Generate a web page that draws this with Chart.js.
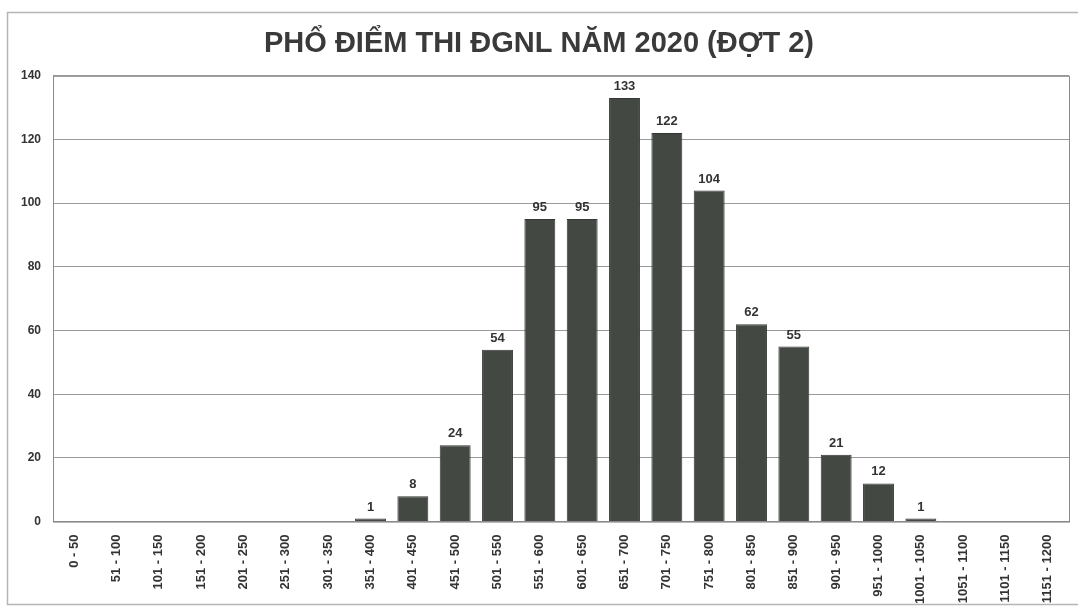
<!DOCTYPE html>
<html>
<head>
  <title>Phổ điểm thi ĐGNL 2020</title>
  <script src="https://cdn.jsdelivr.net/npm/chart.js"></script>
  <style>
    body { margin: 0; background: #fff; }
    #wrap { width: 1078px; height: 610px; }
  </style>
</head>
<body>
  <div id="wrap"><canvas id="myChart"></canvas></div>
  <script>
    const titleText = 'PHỔ ĐIỂM THI ĐGNL NĂM 2020 (ĐỢT 2)';
    const scoreRanges = ['0 - 50', '51 - 100', '101 - 150', '151 - 200', '201 - 250', '251 - 300',
      '301 - 350', '351 - 400', '401 - 450', '451 - 500', '501 - 550', '551 - 600',
      '601 - 650', '651 - 700', '701 - 750', '751 - 800', '801 - 850', '851 - 900',
      '901 - 950', '951 - 1000', '1001 - 1050', '1051 - 1100', '1101 - 1150', '1151 - 1200'];
    const counts = [0, 0, 0, 0, 0, 0, 0, 1, 8, 24, 54, 95, 95, 133, 122, 104, 62, 55, 21, 12, 1, 0, 0, 0];
    const yTicks = [0, 20, 40, 60, 80, 100, 120, 140];

    // frame round the plot + thin border round the whole picture + value labels
    const extras = {
      id: 'extras',
      afterDraw(chart) {
        const c = chart.ctx, a = chart.chartArea;
        c.save();
        c.strokeStyle = '#b5b5b5';
        c.lineWidth = 1.5;
        c.strokeRect(7.5, 12.5, 1078, 592);
        c.strokeStyle = '#8a8a8a';
        c.lineWidth = 1;
        c.strokeRect(a.left + 0.5, a.top + 0.5, a.right - a.left, a.bottom - a.top);
        c.fillStyle = '#333';
        c.font = 'bold 13px "Liberation Sans", Arial, sans-serif';
        c.textAlign = 'center';
        c.textBaseline = 'bottom';
        const meta = chart.getDatasetMeta(0);
        meta.data.forEach((bar, i) => {
          if (counts[i] > 0) c.fillText(counts[i], bar.x, bar.y - 5);
        });
        c.restore();
      }
    };

    new Chart(document.getElementById('myChart'), {
      type: 'bar',
      data: {
        labels: scoreRanges,
        datasets: [{
          data: counts,
          backgroundColor: '#434843',
          borderColor: '#333733',
          borderWidth: 1,
          categoryPercentage: 1,
          barPercentage: 0.73
        }]
      },
      options: {
        responsive: true,
        maintainAspectRatio: false,
        animation: false,
        layout: { padding: { left: 9, right: 9, top: 3, bottom: 1 } },
        plugins: {
          legend: { display: false },
          tooltip: { enabled: false },
          title: {
            display: true,
            text: titleText,
            color: '#3a3a3a',
            font: { family: '"Liberation Sans", Arial, sans-serif', size: 29, weight: 'bold' },
            padding: { top: 24, bottom: 14 }
          }
        },
        scales: {
          x: {
            grid: { display: false },
            border: { color: '#8a8a8a' },
            ticks: {
              color: '#333',
              autoSkip: false,
              maxRotation: 90,
              minRotation: 90,
              padding: 5,
              font: { family: '"Liberation Sans", Arial, sans-serif', size: 13, weight: 'bold' }
            }
          },
          y: {
            min: 0,
            max: 140,
            afterBuildTicks(axis) { axis.ticks = yTicks.map(v => ({ value: v })); },
            grid: { color: '#9a9a9a', drawTicks: false },
            border: { display: false },
            ticks: {
              color: '#333',
              padding: 12,
              font: { family: '"Liberation Sans", Arial, sans-serif', size: 12, weight: 'bold' }
            }
          }
        }
      },
      plugins: [extras]
    });
  </script>
</body>
</html>
